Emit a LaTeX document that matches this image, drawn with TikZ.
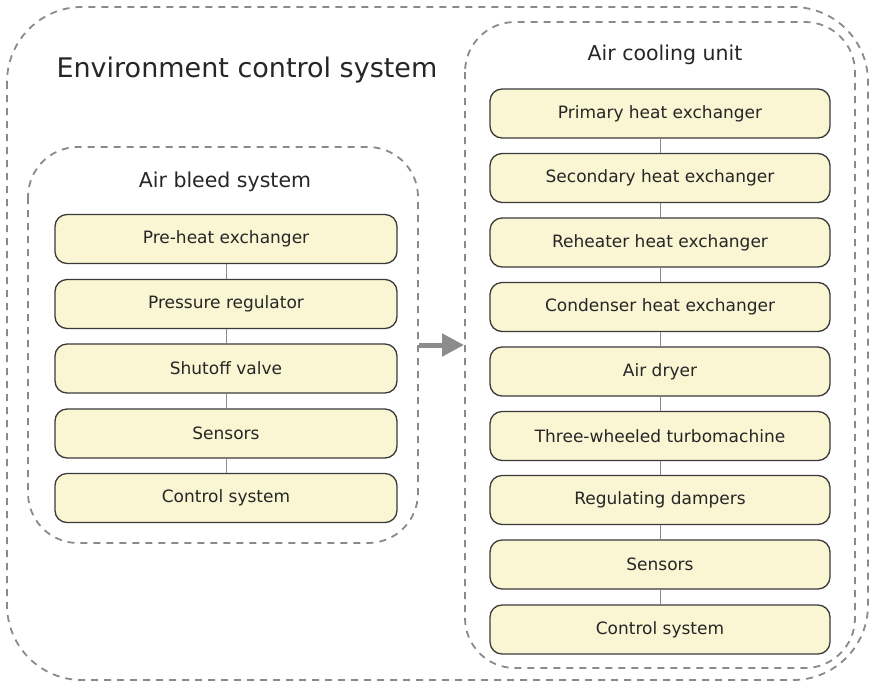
\documentclass[tikz,border=0pt]{standalone}
\usepackage{fontspec}
\setmainfont{DejaVu Sans}
\usetikzlibrary{arrows.meta}
\definecolor{boxfill}{HTML}{FAF5D2}
\definecolor{boxline}{HTML}{3A3A3A}
\definecolor{dashgray}{HTML}{8A8A8A}
\begin{document}
\begin{tikzpicture}[x=1pt,y=-1pt,
  item/.style={draw=boxline, line width=1.3pt, fill=boxfill, rounded corners=12pt,
    minimum height=49pt, inner sep=0pt, font=\fontsize{17}{20}\selectfont, text=black!85},
  leftitem/.style={item, minimum width=342pt},
  rightitem/.style={item, minimum width=340pt},
  group/.style={draw=dashgray, line width=1.8pt, dash pattern=on 7pt off 6pt},
  link/.style={draw=black!45, line width=0.8pt}]
\useasboundingbox (0,0) rectangle (874,686);
% outer group
\draw[group, rounded corners=75pt] (7,7) rectangle (868,680);
\node[anchor=west, font=\fontsize{27}{31}\selectfont, text=black!85] (ecs) at (53,70) {Environment control system};
% air bleed group
\draw[group, rounded corners=50pt] (28,147) rectangle (418,543);
\node[font=\fontsize{20.5}{24}\selectfont, text=black!85] (abs) at (225,182) {Air bleed system};
% air cooling group
\draw[group, rounded corners=50pt] (465,22) rectangle (855,668);
\node[font=\fontsize{20.5}{24}\selectfont, text=black!85] (acu) at (665,55) {Air cooling unit};
% left items
\node[leftitem] (l1) at (226,239) {Pre-heat exchanger};
\node[leftitem] (l2) at (226,304) {Pressure regulator};
\node[leftitem] (l3) at (226,368.5) {Shutoff valve};
\node[leftitem] (l4) at (226,433.5) {Sensors};
\node[leftitem] (l5) at (226,498) {Control system};
\foreach \a/\b in {l1/l2,l2/l3,l3/l4,l4/l5} \draw[link] (\a.south) -- (\b.north);
% right items
\node[rightitem] (r1) at (660,113.5) {Primary heat exchanger};
\node[rightitem] (r2) at (660,178) {Secondary heat exchanger};
\node[rightitem] (r3) at (660,242.5) {Reheater heat exchanger};
\node[rightitem] (r4) at (660,307) {Condenser heat exchanger};
\node[rightitem] (r5) at (660,371.5) {Air dryer};
\node[rightitem] (r6) at (660,436) {Three-wheeled turbomachine};
\node[rightitem] (r7) at (660,500) {Regulating dampers};
\node[rightitem] (r8) at (660,564.5) {Sensors};
\node[rightitem] (r9) at (660,629.5) {Control system};
\foreach \a/\b in {r1/r2,r2/r3,r3/r4,r4/r5,r5/r6,r6/r7,r7/r8,r8/r9} \draw[link] (\a.south) -- (\b.north);
% arrow between groups
\coordinate (as) at (419,345);
\coordinate (ae) at (464,345);
\draw[draw=black!45, line width=5pt, -{Triangle[length=22pt,width=22pt,fill=black!45]}] (as) -- (ae);
\end{tikzpicture}
\end{document}
